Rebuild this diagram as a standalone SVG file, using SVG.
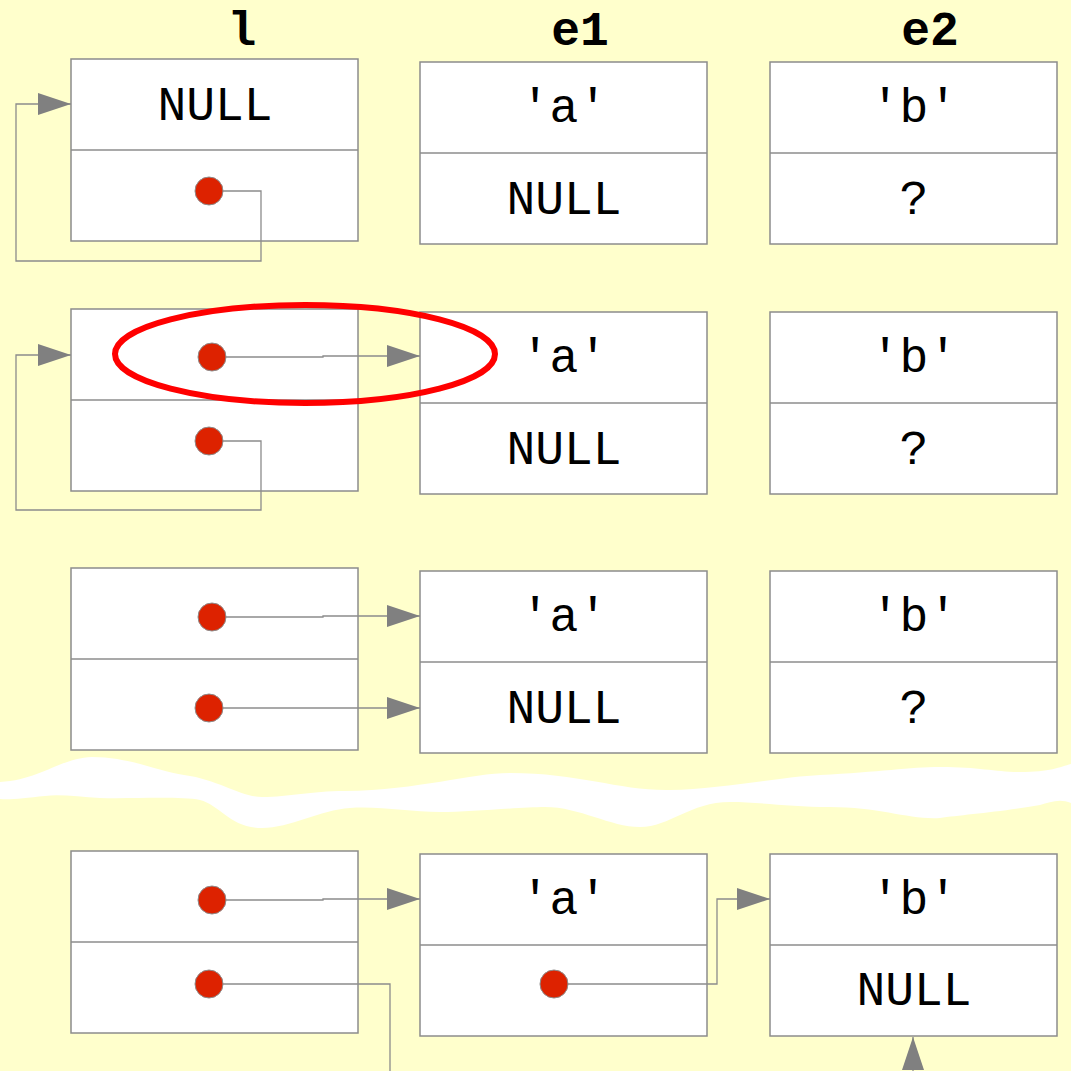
<svg xmlns="http://www.w3.org/2000/svg" width="1071" height="1071" viewBox="0 0 1071 1071">
<defs>
<marker id="ah" markerUnits="userSpaceOnUse" markerWidth="34" markerHeight="24" viewBox="0 0 34 24" refX="33" refY="12" orient="auto">
<path d="M0,1 L33,12 L0,23 Z" fill="#808080"/>
</marker>
</defs>
<style>
.cell{fill:#ffffff;stroke:#8c8c8c;stroke-width:1.5}
.div{stroke:#8c8c8c;stroke-width:1.5}
.t{font-family:"Liberation Mono","DejaVu Sans Mono",monospace;font-size:48px;fill:#000;text-anchor:middle}
.h{font-family:"Liberation Mono","DejaVu Sans Mono",monospace;font-size:48px;font-weight:bold;fill:#000;text-anchor:middle}
.dot{fill:#dd2200;stroke:#8c8c8c;stroke-width:1}
.c{fill:none;stroke:#8c8c8c;stroke-width:1.3}
</style>
<rect width="1071" height="1071" fill="#ffffcc"/>
<path d="M0,782 C40,780 60,758 92,757 C130,757 160,772 184,775 C220,780 240,797 262,797 C290,797 310,791 345,791 C420,790 470,773 510,773 C580,773 620,791 670,790 C720,789 780,777 820,775 C880,772 910,767 940,767 C980,767 995,772 1020,772 C1050,772 1060,767 1071,764 L1071,803 C1060,798 1050,802 1040,805 C1000,812 960,815 940,818 C910,820 880,807 830,807 C790,807 760,802 730,802 C690,802 670,827 640,827 C610,827 580,807 545,807 C520,807 470,812 440,812 C410,812 380,806 350,808 C320,810 290,828 262,828 C230,828 220,805 200,800 C180,796 130,799 100,798 C80,797 60,794 45,796 C25,798 10,800 0,799 Z" fill="#ffffff"/>
<g id="headers">
<text class="h" x="242" y="45">l</text>
<text class="h" x="580" y="45">e1</text>
<text class="h" x="930" y="45">e2</text>
</g>
<g id="l1"><rect class="cell" x="71" y="59" width="287" height="182"/><line class="div" x1="71" y1="150" x2="358" y2="150"/><text class="t" x="215" y="120">NULL</text><circle class="dot" cx="209" cy="191" r="14"/></g>
<g id="e1_1"><rect class="cell" x="420" y="62" width="287" height="182"/><line class="div" x1="420" y1="153" x2="707" y2="153"/><text class="t" x="564" y="122">'a'</text><text class="t" x="564" y="214">NULL</text></g>
<g id="e2_1"><rect class="cell" x="770" y="62" width="287" height="182"/><line class="div" x1="770" y1="153" x2="1057" y2="153"/><text class="t" x="914" y="122">'b'</text><text class="t" x="914" y="214">?</text></g>
<g id="l2"><rect class="cell" x="71" y="309" width="287" height="182"/><line class="div" x1="71" y1="400" x2="358" y2="400"/><circle class="dot" cx="212" cy="357" r="14"/><circle class="dot" cx="209" cy="441" r="14"/></g>
<g id="e1_2"><rect class="cell" x="420" y="312" width="287" height="182"/><line class="div" x1="420" y1="403" x2="707" y2="403"/><text class="t" x="564" y="372">'a'</text><text class="t" x="564" y="464">NULL</text></g>
<g id="e2_2"><rect class="cell" x="770" y="312" width="287" height="182"/><line class="div" x1="770" y1="403" x2="1057" y2="403"/><text class="t" x="914" y="372">'b'</text><text class="t" x="914" y="464">?</text></g>
<g id="l3"><rect class="cell" x="71" y="568" width="287" height="182"/><line class="div" x1="71" y1="659" x2="358" y2="659"/><circle class="dot" cx="212" cy="617" r="14"/><circle class="dot" cx="209" cy="708" r="14"/></g>
<g id="e1_3"><rect class="cell" x="420" y="571" width="287" height="182"/><line class="div" x1="420" y1="662" x2="707" y2="662"/><text class="t" x="564" y="631">'a'</text><text class="t" x="564" y="723">NULL</text></g>
<g id="e2_3"><rect class="cell" x="770" y="571" width="287" height="182"/><line class="div" x1="770" y1="662" x2="1057" y2="662"/><text class="t" x="914" y="631">'b'</text><text class="t" x="914" y="723">?</text></g>
<g id="l4"><rect class="cell" x="71" y="851" width="287" height="182"/><line class="div" x1="71" y1="942" x2="358" y2="942"/><circle class="dot" cx="212" cy="900" r="14"/><circle class="dot" cx="209" cy="984" r="14"/></g>
<g id="e1_4"><rect class="cell" x="420" y="854" width="287" height="182"/><line class="div" x1="420" y1="945" x2="707" y2="945"/><text class="t" x="564" y="914">'a'</text><circle class="dot" cx="554" cy="984" r="14"/></g>
<g id="e2_4"><rect class="cell" x="770" y="854" width="287" height="182"/><line class="div" x1="770" y1="945" x2="1057" y2="945"/><text class="t" x="914" y="914">'b'</text><text class="t" x="914" y="1005">NULL</text></g>
<g id="connectors">
<path class="c" d="M223,191 H261 V261 H16 V104 H71" marker-end="url(#ah)"/>
<path class="c" d="M226,357 H323 V356 H420" marker-end="url(#ah)"/>
<path class="c" d="M223,441 H261 V510 H16 V355 H71" marker-end="url(#ah)"/>
<path class="c" d="M226,617 H323 V616 H420" marker-end="url(#ah)"/>
<path class="c" d="M223,708 H420" marker-end="url(#ah)"/>
<path class="c" d="M226,900 H323 V899 H420" marker-end="url(#ah)"/>
<path class="c" d="M223,984 H390 V1071"/>
<path class="c" d="M568,984 H717 V899 H770" marker-end="url(#ah)"/>
<path class="c" d="M913,1075 V1037" marker-end="url(#ah)"/>
</g>
<ellipse id="highlight" cx="305" cy="354" rx="190" ry="49" fill="none" stroke="#ff0000" stroke-width="6"/>
</svg>
